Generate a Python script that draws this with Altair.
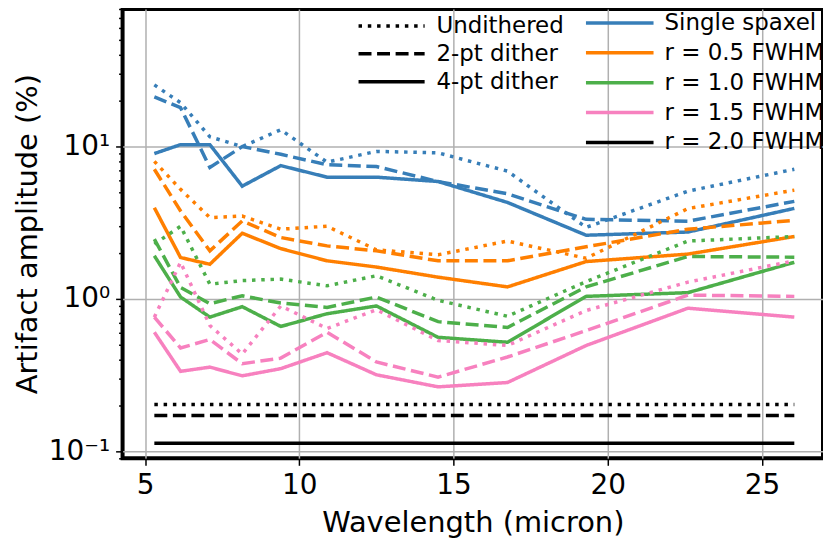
import altair as alt
import pandas as pd

wavelength = [5.3, 6.15, 7.1, 8.15, 9.4, 10.9, 12.5, 14.5, 16.75, 19.3, 22.6, 26.05]

apertures = ["Single spaxel", "r = 0.5 FWHM", "r = 1.0 FWHM", "r = 1.5 FWHM", "r = 2.0 FWHM"]
dithers = ["Undithered", "2-pt dither", "4-pt dither"]

single_undith = [25.4, 19.4, 11.6, 10.0, 12.9, 7.9, 9.3, 9.1, 6.9, 2.95, 5.1, 7.1]
single_2pt = [21.2, 18.0, 7.3, 10.0, 8.9, 7.6, 7.4, 5.9, 4.9, 3.33, 3.24, 4.37]
single_4pt = [9.0, 10.3, 10.3, 5.5, 7.5, 6.3, 6.3, 5.9, 4.3, 2.62, 2.75, 3.93]

r05_undith = [8.0, 5.24, 3.42, 3.5, 2.87, 3.0, 2.1, 1.95, 2.4, 1.85, 3.92, 5.18]
r05_2pt = [7.1, 3.78, 2.07, 3.25, 2.53, 2.23, 2.07, 1.78, 1.78, 2.2, 2.87, 3.28]
r05_4pt = [3.97, 1.87, 1.69, 2.70, 2.14, 1.78, 1.62, 1.39, 1.20, 1.76, 1.97, 2.57]

r10_undith = [2.29, 3.0, 1.25, 1.32, 1.35, 1.22, 1.42, 0.98, 0.77, 1.3, 2.4, 2.57]
r10_2pt = [2.47, 1.19, 0.93, 1.05, 0.94, 0.88, 1.03, 0.71, 0.65, 1.2, 1.9, 1.88]
r10_4pt = [1.92, 1.03, 0.76, 0.89, 0.66, 0.80, 0.90, 0.56, 0.52, 1.04, 1.1, 1.74]

r15_undith = [0.76, 1.74, 0.67, 0.435, 0.9, 0.64, 0.85, 0.534, 0.495, 0.84, 1.29, 1.78]
r15_2pt = [0.76, 0.477, 0.542, 0.376, 0.409, 0.605, 0.386, 0.307, 0.416, 0.62, 1.06, 1.04]
r15_4pt = [0.605, 0.335, 0.357, 0.313, 0.349, 0.444, 0.318, 0.265, 0.283, 0.495, 0.87, 0.76]

r20_undith = [0.203] * len(wavelength)
r20_2pt = [0.172] * len(wavelength)
r20_4pt = [0.113] * len(wavelength)

series = {
    ("Single spaxel", "Undithered"): single_undith,
    ("Single spaxel", "2-pt dither"): single_2pt,
    ("Single spaxel", "4-pt dither"): single_4pt,
    ("r = 0.5 FWHM", "Undithered"): r05_undith,
    ("r = 0.5 FWHM", "2-pt dither"): r05_2pt,
    ("r = 0.5 FWHM", "4-pt dither"): r05_4pt,
    ("r = 1.0 FWHM", "Undithered"): r10_undith,
    ("r = 1.0 FWHM", "2-pt dither"): r10_2pt,
    ("r = 1.0 FWHM", "4-pt dither"): r10_4pt,
    ("r = 1.5 FWHM", "Undithered"): r15_undith,
    ("r = 1.5 FWHM", "2-pt dither"): r15_2pt,
    ("r = 1.5 FWHM", "4-pt dither"): r15_4pt,
    ("r = 2.0 FWHM", "Undithered"): r20_undith,
    ("r = 2.0 FWHM", "2-pt dither"): r20_2pt,
    ("r = 2.0 FWHM", "4-pt dither"): r20_4pt,
}

rows = []
for (ap, di), vals in series.items():
    for w, v in zip(wavelength, vals):
        rows.append({"wavelength": w, "amp": v, "aperture": ap, "dither": di})
df = pd.DataFrame(rows)

colors = ["#377eb8", "#ff7f00", "#4daf4a", "#f781bf", "#000000"]
dashes = [[3.5, 5.8], [13, 5.6], [1, 0]]

x_ticks = [5, 10, 15, 20, 25]
y_ticks = [0.09, 0.1, 0.2, 0.3, 0.4, 0.5, 0.6, 0.7, 0.8, 0.9,
           1, 2, 3, 4, 5, 6, 7, 8, 9, 10, 20, 30, 40, 50, 60, 70, 80]

decade_test = "abs(log(datum.value)/LN10 - round(log(datum.value)/LN10)) < 0.001"

chart = alt.Chart(df).mark_line(strokeWidth=3.5, clip=True).encode(
    x=alt.X("wavelength:Q",
            scale=alt.Scale(domain=[4.27, 26.98], nice=False, zero=False),
            axis=alt.Axis(values=x_ticks, title="Wavelength (micron)", tickSize=7,
                          labelPadding=6, titlePadding=9, labelFlush=False)),
    y=alt.Y("amp:Q",
            scale=alt.Scale(type="log", domain=[0.09, 80], nice=False),
            axis=alt.Axis(values=y_ticks, title="Artifact amplitude (%)",
                          labelExpr="datum.value == 10 ? '10¹' : datum.value == 1 ? '10⁰' : datum.value == 0.1 ? '10⁻¹' : ''",
                          tickSize={"condition": {"test": decade_test, "value": 7}, "value": 4},
                          gridOpacity={"condition": {"test": decade_test, "value": 1}, "value": 0},
                          labelPadding=6, titlePadding=6, labelFlush=False)),
    color=alt.Color("aperture:N",
                    scale=alt.Scale(domain=apertures, range=colors),
                    legend=alt.Legend(title=None, orient="none", legendX=463, legendY=1,
                                      symbolType="stroke", symbolSize=4600, symbolStrokeWidth=3.5,
                                      labelFontSize=23, labelFont="DejaVu Sans", labelColor="black",
                                      labelLimit=300, clipHeight=26, rowPadding=4, labelOffset=9,
                                      padding=0)),
    strokeDash=alt.StrokeDash("dither:N",
                              scale=alt.Scale(domain=dithers, range=dashes),
                              legend=alt.Legend(title=None, orient="none", legendX=235, legendY=4,
                                                symbolType="stroke", symbolSize=4400,
                                                symbolStrokeWidth=3.5, symbolStrokeColor="black",
                                                labelFontSize=23, labelFont="DejaVu Sans",
                                                labelColor="black", labelLimit=300, clipHeight=26,
                                                rowPadding=2, labelOffset=10, padding=0)),
).properties(
    width=703, height=451,
    autosize=alt.AutoSizeParams(type="none"),
    padding={"left": 115, "top": 0, "right": 0, "bottom": 81},
).configure_view(
    stroke="black", strokeWidth=4
).configure_axis(
    domain=False, grid=True, gridColor="#b0b0b0", gridWidth=1.5,
    tickColor="black", tickWidth=1.5,
    labelFont="DejaVu Sans", labelFontSize=28, labelColor="black",
    titleFont="DejaVu Sans", titleFontSize=29, titleFontWeight="normal", titleColor="black",
)

chart.save("out.html", embed_options={"renderer": "svg", "actions": False})
